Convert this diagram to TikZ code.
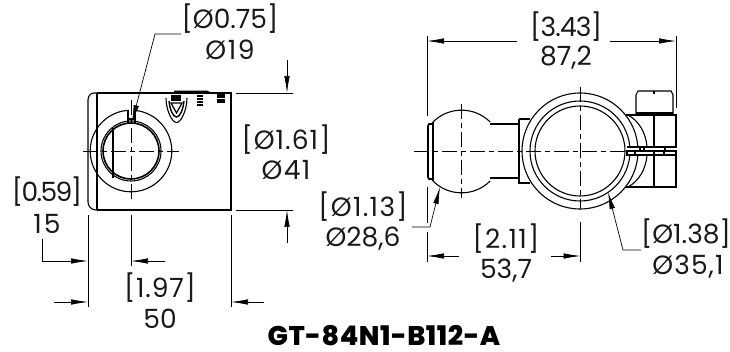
\documentclass[tikz,border=0pt]{standalone}
\usepackage{fontspec}
\setmainfont{Poppins}
\newfontfamily\ttlfont[LetterSpace=2]{Poppins ExtraBold}
\newcommand{\lsp}[1]{\addfontfeature{LetterSpace=#1}}
\usetikzlibrary{arrows.meta}
\tikzset{
 x=1pt,y=-1pt,
 obj/.style={line width=1.1pt,black},
 thick obj/.style={line width=1.6pt,black},
 dim/.style={line width=0.7pt,black},
 arr/.style={dim,-{Latex[length=17pt,width=5.5pt]}},
 cl/.style={line width=0.7pt,black,dash pattern=on 15pt off 4pt on 5pt off 4pt},
 lab/.style={font=\fontsize{26.5}{26.5}\selectfont,inner sep=0pt,text=black!90},
}
\begin{document}
\begin{tikzpicture}
\useasboundingbox (0,0) rectangle (730,352);
% left view
\draw[obj] (97,93) -- (231,93) -- (231,210) -- (97,210);
\draw[obj] (97,93) -- (94,93) to[out=180,in=90] (88,100) -- (88,202) to[out=270,in=180] (96,210) -- (97,210);
\draw[obj] (97,93) -- (97,210);
\draw[obj] (131,151) circle (40.8);
\fill[white] (128.5,108) rectangle (134.5,123);
\draw[obj] (128,111) -- (128,123) (135,111) -- (135,123) (128,119) -- (135,119);
\draw[thick obj] (131,151) circle (28);
\draw[obj] (131,151) circle (30);
\draw[obj] (113,128) -- (113,178);
\draw[cl] (83,151) -- (179,151);
\draw[cl] (131,100) -- (131,200);
% logo marks
\draw[thick obj] (147,93) -- (158,93);
\draw[line width=1.6pt] (174,91.5) -- (207,91.5) -- (210,93);
\draw[obj] (166,98) .. controls (166,110) and (172,122.5) .. (176.5,122.5) .. controls (181,122.5) and (187,110) .. (187,98);
\draw[line width=1.4pt] (169,101) .. controls (170,110) and (173,117) .. (176.5,117) .. controls (180,117) and (183,110) .. (184,101);
\draw[line width=1.2pt] (171,103) -- (176.5,113) -- (182,103) -- cycle;
\fill (171,95) rectangle (181,101);
\foreach \yy in {95,98,101,104} {\fill (197,\yy) rectangle (202.5,\yy+2);}
\foreach \yy in {94,96.5,99,101.5} {\fill (217,\yy) rectangle (224.5,\yy+1.8);}
% right view : ball
\draw[obj] (433,122) arc[start angle=-135,end angle=-45,radius=40.4];
\draw[obj] (433,181) arc[start angle=135,end angle=45,radius=40.4];
\draw[obj] (433,122) -- (433,181);
\draw[thick obj] (433,124) -- (429,124) -- (428,126) -- (428,177) -- (429,179) -- (433,179);
\draw[obj] (490,124) -- (520,124) (490,178) -- (520,178);
\draw[obj] (519,119) -- (530,119) (519,119) -- (519,183) -- (530,183);
% clamp behind
\draw[obj] (626,115) -- (676,115) -- (676,147) -- (627,147);
\draw[obj] (627,155) -- (676,155) -- (676,187) -- (624,187);
\draw[obj] (654,115) -- (654,147) (654,155) -- (654,187);
\draw[obj] (628,115) .. controls (639,121) and (646,133) .. (647,147);
\draw[obj] (647,155) .. controls (646,169) and (639,181) .. (628,187);
\fill[white] (580,151) circle (58);
\draw[obj] (580,151) circle (58);
\draw[obj] (580,151) circle (50);
\draw[obj] (580,151) circle (45);
\draw[obj] (636,115) -- (636,95) -- (638,91) -- (671,91) -- (673,95) -- (673,115);
\draw[obj] (654,91) -- (654,94);
\draw[thick obj] (636,113) -- (673,113);
\fill[white] (626,147.6) rectangle (675.5,154.5);
\draw[obj] (627,151) rectangle (676,155);
\draw[obj] (635,151) -- (635,155) (654,151) -- (654,155) (664,151) -- (664,155);
\draw[obj] (627,147) -- (641,147) (640,147) -- (640,151) (644,147) -- (644,151) (665,147) -- (665,151);
\draw[cl] (414,151) -- (626,151);
\draw[cl] (461.5,104) -- (461.5,198);
\draw[cl] (580.5,87) -- (580.5,209);
% dimensions left
\coordinate (t1) at (287,60);
\draw[arr] (t1) -- (287,93);
\draw[arr] (287,243) -- (287,210);
\draw[dim] (236,93) -- (293,93) (236,210) -- (293,210);
\draw[dim] (88,215) -- (88,307) (131,215) -- (131,266) (231,215) -- (231,307);
\draw[arr] (42,239) -- (42,261) -- (88,261);
\draw[arr] (165,261) -- (131,261);
\draw[arr] (54,302) -- (88,302);
\draw[arr] (264,302) -- (231,302);
\draw[arr] (181,34) -- (155,34) -- (132,122);
% dimensions right
\draw[dim] (427,36) -- (427,116) (676,36) -- (676,108);
\draw[arr] (517,41) -- (427,41);
\draw[arr] (610,41) -- (676,41);
\draw[dim] (427,187) -- (427,223) (427,232) -- (427,262) (580.5,222) -- (580.5,262);
\draw[arr] (459,256) -- (427,256);
\draw[arr] (551,256) -- (580.5,256);
\draw[arr] (412,227) -- (430,227) -- (440,187);
\draw[arr] (641,250) -- (623,250) -- (608,192);
% labels
\node[lab] (a1) at (230,19) {[Ø0.75]};
\node[lab] (a2) at (230,50) {\lsp{6}Ø19};
\node[lab] (b1) at (286,140) {\lsp{4}[Ø1.61]};
\node[lab] (b2) at (286,170) {\lsp{5}Ø41};
\node[lab] (c1) at (47,192) {\lsp{-6}[0.59]};
\node[lab] (c2) at (47,224) {\lsp{8}15};
\node[lab] (d1) at (160,288) {\lsp{3}[1.97]};
\node[lab] (d2) at (160,319) {50};
\node[lab] (e1) at (566,27) {\lsp{-3}[3.43]};
\node[lab] (e2) at (566,58) {87,2};
\node[lab] (f1) at (363,207) {\lsp{5}[Ø1.13]};
\node[lab] (f2) at (363,239) {Ø28,6};
\node[lab] (g1) at (506,239) {\lsp{5}[2.11]};
\node[lab] (g2) at (506,271) {53,7};
\node[lab] (h1) at (686,234) {[Ø1.38]};
\node[lab] (h2) at (688,267) {\lsp{4}Ø35,1};
\node[font=\fontsize{27}{27}\ttlfont,inner sep=0pt] (title) at (384,336) {GT-84N1-B112-A};
\end{tikzpicture}
\end{document}
